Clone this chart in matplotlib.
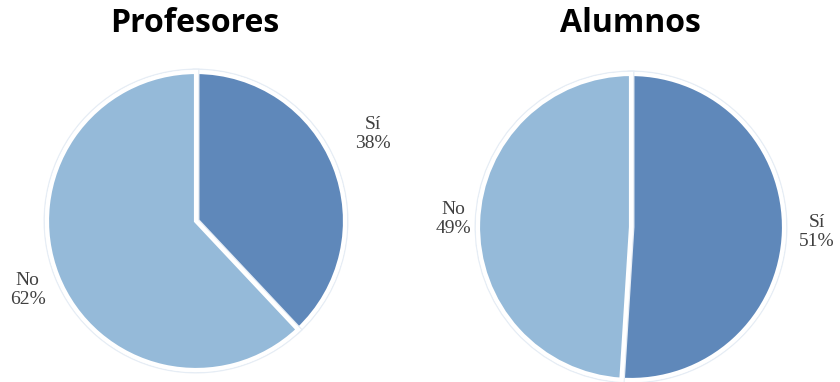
import numpy as np
import matplotlib.pyplot as plt
import matplotlib.patheffects as pe

groups = ["Profesores", "Alumnos"]
categories = ["Sí", "No"]
profesores = [38, 62]
alumnos = [51, 49]
colors = ["#5F88BA", "#95BAD9"]

W, H = 840, 382
fig = plt.figure(figsize=(W / 100, H / 100), dpi=100)
ax = fig.add_axes([0, 0, 1, 1])

serif = ["Liberation Serif", "Times New Roman", "Nimbus Roman", "DejaVu Serif"]

layout = [
    # (center, radius, label (distance, angle shift), title position)
    ((196, 161), 149, [(1.32, 4.6), (1.22, 0.7)], (195, 359)),
    ((631, 155), 153, [(1.215, 0.3), (1.165, -0.8)], (630, 359)),
]

for name, values, (center, radius, lpos, tpos) in zip(groups, [profesores, alumnos], layout):
    wedges, _ = ax.pie(
        values,
        colors=colors,
        startangle=90,
        counterclock=False,
        center=center,
        radius=radius,
        wedgeprops=dict(edgecolor="white", linewidth=3),
        frame=True,
    )
    for w in wedges:
        w.set_path_effects([
            pe.Stroke(linewidth=5, foreground="#e6edf5"),
            pe.Stroke(linewidth=3, foreground="white"),
            pe.Normal(),
        ])
    for w, cat, v, (d, shift) in zip(wedges, categories, values, lpos):
        ang = np.deg2rad((w.theta1 + w.theta2) / 2 + shift)
        x = center[0] + d * radius * np.cos(ang)
        y = center[1] + d * radius * np.sin(ang)
        ax.text(x, y, f"{cat}\n{v}%", ha="center", va="center",
                fontsize=14, family=serif, color="#404040",
                linespacing=1.12)
    ax.text(tpos[0], tpos[1], name, ha="center", va="center",
            fontsize=23, fontweight="bold", family="Open Sans", color="black")

ax.set_xlim(0, W)
ax.set_ylim(0, H)
ax.set_aspect("equal")
ax.axis("off")
fig.savefig("out.png", dpi=100)
